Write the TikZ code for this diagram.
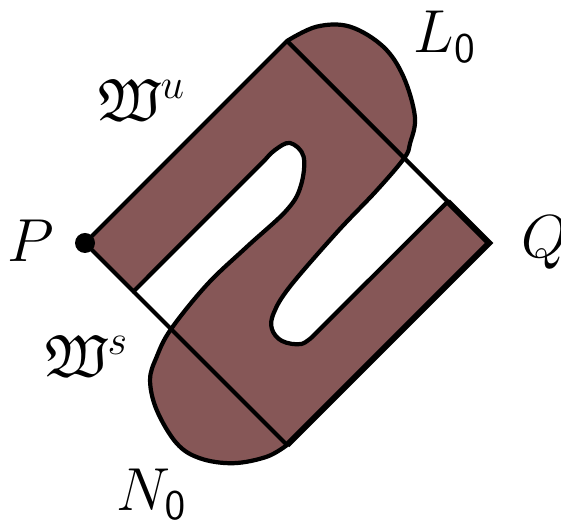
\documentclass[tikz,border=0pt]{standalone}
\usepackage{amssymb}
\definecolor{bandbrown}{RGB}{134,87,87}
\begin{document}
\begin{tikzpicture}[
  outline/.style={line width=1.2pt, line join=round},
  lbl/.style={font=\fontsize{17}{20}\selectfont}]
\useasboundingbox (0,0) rectangle (5.61,5.29);

% square turned by 45 degrees, P at its left corner
\begin{scope}[shift={(0.85,2.86)}, rotate=-45, scale=0.2857]
\coordinate (P) at (0,0);
\coordinate (A) at (0,10);
\coordinate (Q) at (10,10);
\coordinate (B) at (10,0);
\coordinate (L0end) at (5.8,10);
\coordinate (N0end) at (4.26,0);
\coordinate (stripL) at (2.4,0);
\coordinate (stripR) at (7.95,10);

% folded band
\filldraw[fill=bandbrown, outline] (P) -- (A)
  -- plot[smooth, tension=0.6] coordinates {(0,10) (0.38,11.09) (1.2,11.91) (2.52,12.24) (3.76,12.0) (5.04,11.29) (5.58,10.51) (5.8,10) (5.92,8.5) (5.97,6.5) (6.15,4.0) (6.4,2.95) (6.75,2.5) (7.3,2.45) (7.85,2.85) (7.95,3.4)}
  -- (stripR) -- (Q) -- (B)
  -- plot[smooth, tension=0.6] coordinates {(10,0) (9.79,-0.79) (9.12,-1.78) (8.18,-2.48) (7.23,-2.69) (5.91,-2.36) (5.0,-1.78) (4.59,-1.04) (4.26,0) (4.05,2.0) (4.1,3.9) (4.18,5.8) (3.93,6.75) (3.27,7.55) (2.6,7.55) (2.4,7.0) (2.4,6.5)}
  -- (stripL) -- cycle;

% cuts L0 and N0, rest of the square
\draw[outline] (A) -- (L0end) -- (stripR);
\draw[outline] (stripL) -- (N0end) -- (B);
\draw[line width=1.7pt, line join=miter] (stripR) -- (Q) -- (B);
\end{scope}

% fixed point
\fill (P) circle (0.1);

% labels
\node[lbl, anchor=base] (labP) at (0.31,2.67) {$P$};
\node[lbl, anchor=base] (labQ) at (5.45,2.71) {$Q$};
\node[lbl, anchor=base] (labL) at (4.45,4.76) {$L_{\mathsf{0}}$};
\node[lbl, anchor=base] (labN) at (1.52,0.19) {$N_{\mathsf{0}}$};
\node[lbl] (labWu) at (1.42,4.29) {$\mathfrak{W}^u$};
\node[lbl] (labWs) at (0.87,1.73) {$\mathfrak{W}^s$};
\end{tikzpicture}
\end{document}
